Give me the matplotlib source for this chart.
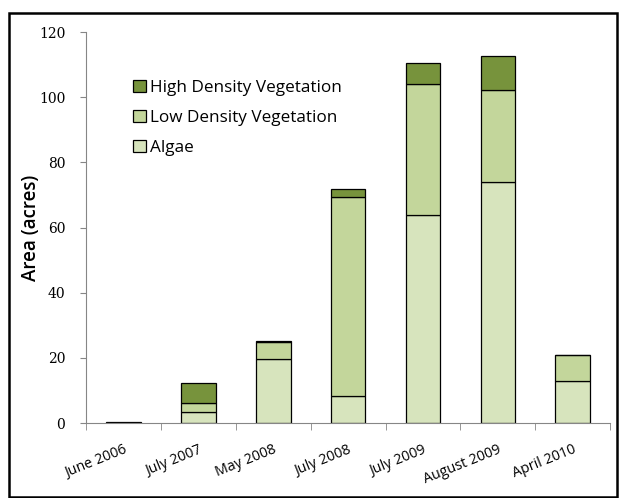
import numpy as np
import matplotlib.pyplot as plt
from matplotlib.patches import Rectangle

# values (acres)
dates = ["June 2006", "July 2007", "May 2008", "July 2008",
         "July 2009", "August 2009", "April 2010"]
algae = [0.0, 3.3, 19.6, 8.3, 63.8, 74.0, 12.9]
low_veg = [0.0, 2.7, 5.2, 61.1, 40.4, 28.3, 7.9]
high_veg = [0.3, 6.4, 0.4, 2.3, 6.3, 10.3, 0.0]

c_algae = "#d7e4bd"
c_low = "#c3d69b"
c_high = "#77933c"

fig = plt.figure(figsize=(6.2, 4.98), dpi=100)
ax = fig.add_axes([0.139, 0.1506, 0.845, 0.785])

x = np.arange(len(dates))
algae = np.array(algae)
low_veg = np.array(low_veg)
high_veg = np.array(high_veg)
w = 0.46
kw = dict(width=w, edgecolor="black", linewidth=0.9)
ax.bar(x, algae, color=c_algae, label="Algae", **kw)
ax.bar(x, low_veg, bottom=algae, color=c_low, label="Low Density Vegetation", **kw)
ax.bar(x, high_veg, bottom=algae + low_veg, color=c_high,
       label="High Density Vegetation", **kw)

ax.set_xlim(-0.5, len(dates) - 0.5)
ax.set_ylim(0, 120)
ax.set_yticks(range(0, 121, 20))
ax.set_yticklabels([str(v) for v in range(0, 121, 20)],
                   family="DejaVu Serif", fontsize=10)

ax.set_xticks(x)
ax.set_xticklabels(dates, rotation=22, ha="right", rotation_mode="anchor",
                   family="Open Sans", fontsize=10.3)
ax.tick_params(axis="x", which="major", length=0, pad=14)
ax.set_xticks(np.arange(-0.5, len(dates)), minor=True)
ax.tick_params(axis="x", which="minor", length=5, color="#868686")
ax.tick_params(axis="y", length=4, color="#868686", pad=11)

for s in ["top", "right"]:
    ax.spines[s].set_visible(False)
for s in ["left", "bottom"]:
    ax.spines[s].set_color("#868686")

ax.set_ylabel("Area (acres)", family="Open Sans", fontsize=13.5, fontweight="semibold")
ax.yaxis.set_label_coords(-0.086, 0.5)

handles, labels = ax.get_legend_handles_labels()
leg = ax.legend(handles[::-1], labels[::-1], loc="upper left",
                bbox_to_anchor=(0.06, 0.918), frameon=False,
                prop={"family": "Open Sans", "size": 12.3},
                handlelength=0.75, handleheight=0.75, handletextpad=0.25,
                labelspacing=0.82)

# outer chart border
fig.patches.append(Rectangle((9 / 620, 0.002), 608 / 620, 1 - 13 / 498 - 0.002,
                             transform=fig.transFigure, fill=False,
                             edgecolor="black", linewidth=1.8))

fig.savefig("out.png", dpi=100)
